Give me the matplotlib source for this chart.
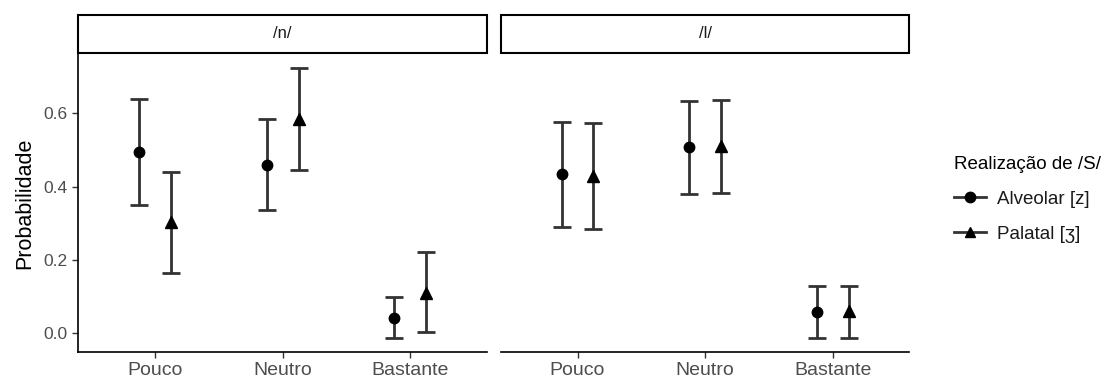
import matplotlib
matplotlib.use("Agg")
import matplotlib.pyplot as plt
from matplotlib.lines import Line2D
from matplotlib.patches import Rectangle
import numpy as np

plt.rcParams["font.family"] = ["Liberation Sans", "DejaVu Sans"]

categories = ["Pouco", "Neutro", "Bastante"]
panels = ["/n/", "/l/"]
series = ["Alveolar [z]", "Palatal [ʒ]"]

# estimates, one list per panel and series
n_alveolar = [0.494, 0.460, 0.043]
n_alveolar_low = [0.350, 0.337, -0.014]
n_alveolar_high = [0.640, 0.583, 0.099]
n_palatal = [0.303, 0.585, 0.111]
n_palatal_low = [0.165, 0.444, 0.004]
n_palatal_high = [0.440, 0.722, 0.222]

l_alveolar = [0.433, 0.507, 0.057]
l_alveolar_low = [0.289, 0.381, -0.013]
l_alveolar_high = [0.577, 0.633, 0.129]
l_palatal = [0.430, 0.511, 0.060]
l_palatal_low = [0.285, 0.383, -0.013]
l_palatal_high = [0.573, 0.635, 0.130]

panel_data = [
    [(n_alveolar, n_alveolar_low, n_alveolar_high), (n_palatal, n_palatal_low, n_palatal_high)],
    [(l_alveolar, l_alveolar_low, l_alveolar_high), (l_palatal, l_palatal_low, l_palatal_high)],
]

markers = ["o", "^"]
offsets = [-0.125, 0.125]
ink = "#333333"
tick_grey = "#4D4D4D"

fig = plt.figure(figsize=(11.1, 3.81), dpi=100)
axes_boxes = [(0.0703, 0.0769, 0.3685, 0.781), (0.4514, 0.0769, 0.3676, 0.781)]
strip_y, strip_h = 0.861, 0.0997

x = np.arange(1, len(categories) + 1)
for p, (box, label) in enumerate(zip(axes_boxes, panels)):
    ax = fig.add_axes(box)
    for s in range(2):
        mid, low, high = (np.asarray(v) for v in panel_data[p][s])
        ax.errorbar(
            x + offsets[s],
            mid,
            yerr=[mid - low, high - mid],
            fmt=markers[s],
            color="black",
            ecolor=ink,
            elinewidth=2.0,
            capsize=6.5,
            capthick=2.0,
            markersize=7.5 if s == 0 else 8,
        )
    ax.set_xlim(0.4, 3.6)
    ax.set_ylim(-0.05, 0.761)
    ax.set_xticks(x)
    ax.set_xticklabels(categories, fontsize=14, color=tick_grey)
    ax.set_yticks([0.0, 0.2, 0.4, 0.6])
    ax.set_yticklabels(["0.0", "0.2", "0.4", "0.6"], fontsize=12.5, color=tick_grey)
    ax.tick_params(length=4.5, width=1.0, color=ink, pad=3)
    for side in ["top", "right"]:
        ax.spines[side].set_visible(False)
    ax.spines["bottom"].set_linewidth(1.2)
    ax.spines["left"].set_linewidth(1.2)
    if p == 0:
        ax.set_ylabel("Probabilidade", fontsize=15.5, labelpad=6)
    else:
        ax.spines["left"].set_visible(False)
        ax.tick_params(axis="y", left=False, labelleft=False)

    strip = Rectangle((box[0], strip_y), box[2], strip_h, transform=fig.transFigure,
                      facecolor="white", edgecolor="black", linewidth=1.5)
    fig.patches.append(strip)
    fig.text(box[0] + box[2] / 2, strip_y + strip_h / 2, label, ha="center", va="center",
             fontsize=12, color="#1A1A1A")

handles = [
    Line2D([], [], color=ink, linewidth=2.0, marker=m, markerfacecolor="black",
           markeredgecolor="black", markersize=7.5)
    for m in markers
]
leg = fig.legend(
    handles,
    series,
    title="Realização de /S/",
    loc="upper left",
    bbox_to_anchor=(0.851, 0.615),
    frameon=False,
    fontsize=13.5,
    title_fontsize=13.5,
    handlelength=1.7,
    handletextpad=0.6,
    labelspacing=0.95,
    borderpad=0,
)
leg._legend_box.align = "left"
for t in leg.get_texts():
    t.set_color("#1A1A1A")

fig.savefig("out.png", dpi=100)
